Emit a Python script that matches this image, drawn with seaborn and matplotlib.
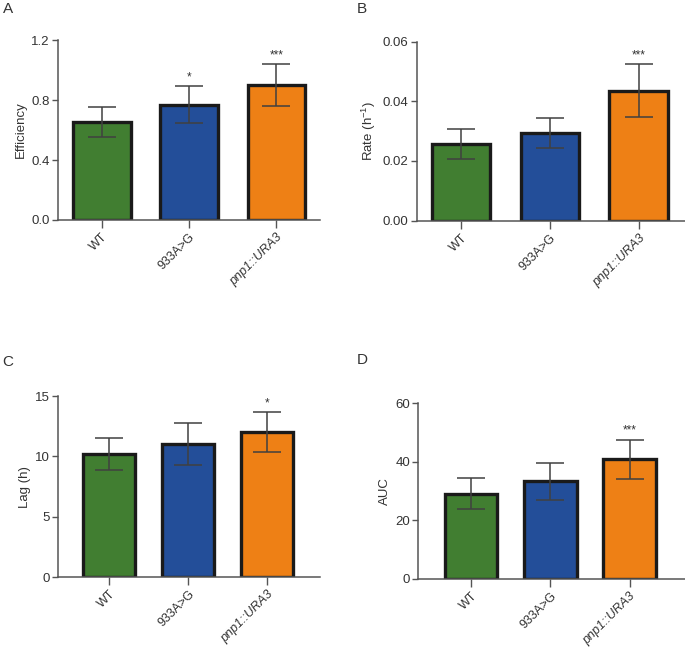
import matplotlib
matplotlib.use("Agg")
import matplotlib.pyplot as plt
import seaborn as sns
import pandas as pd
import numpy as np

strains = ["WT", "933A>G", "pnp1::URA3"]
bar_colors = ["#417E31", "#234E99", "#EE8015"]

eff_mean = [0.655, 0.770, 0.898]
eff_err = [0.100, 0.125, 0.140]
eff_sig = ["", "*", "***"]

rate_mean = [0.0257, 0.0293, 0.0436]
rate_err = [0.0049, 0.0050, 0.0088]
rate_sig = ["", "", "***"]

lag_mean = [10.2, 11.05, 12.0]
lag_err = [1.35, 1.75, 1.65]
lag_sig = ["", "", "*"]

auc_mean = [29.0, 33.3, 40.9]
auc_err = [5.3, 6.3, 6.7]
auc_sig = ["", "", "***"]

sns.set_style("ticks")
plt.rcParams["font.family"] = ["Liberation Sans", "DejaVu Sans"]
plt.rcParams["mathtext.default"] = "regular"

fig = plt.figure(figsize=(6.85, 6.47), dpi=100)

panels = [
    ("A", [0.0847, 0.660, 0.3825, 0.278], eff_mean, eff_err, eff_sig, "Efficiency",
     (0, 1.2), [0.0, 0.4, 0.8, 1.2], "{:.1f}", (-0.5, 2.5)),
    ("B", [0.6083, 0.659, 0.3917, 0.2767], rate_mean, rate_err, rate_sig, "Rate (h$^{-1}$)",
     (0, 0.06), [0.00, 0.02, 0.04, 0.06], "{:.2f}", (-0.5, 2.52)),
    ("C", [0.0847, 0.1077, 0.3825, 0.2802], lag_mean, lag_err, lag_sig, "Lag (h)",
     (0, 15), [0, 5, 10, 15], "{:.0f}", (-0.65, 2.67)),
    ("D", [0.6107, 0.1055, 0.3893, 0.2711], auc_mean, auc_err, auc_sig, "AUC",
     (0, 60), [0, 20, 40, 60], "{:.0f}", (-0.67, 2.7)),
]

# panel letters
letter_pos = {"A": (0.004, 0.997), "B": (0.521, 0.997), "C": (0.004, 0.451), "D": (0.521, 0.454)}

for letter, rect, means, errs, sig, ylabel, ylim, yticks, fmt, xlim in panels:
    ax = fig.add_axes(rect)
    df = pd.DataFrame({"strain": strains, "value": means})
    sns.barplot(data=df, x="strain", y="value", hue="strain", palette=bar_colors,
                saturation=1, legend=False, width=0.66, edgecolor="#1a1a1a", linewidth=2.4,
                errorbar=None, ax=ax, zorder=2)
    ax.errorbar(np.arange(len(strains)), means, yerr=errs, fmt="none",
                ecolor="#404040", elinewidth=1.1, capsize=10, capthick=1.1, zorder=3)
    for i, s in enumerate(sig):
        if s:
            ax.annotate(s, (i, means[i] + errs[i]), xytext=(0, 2), textcoords="offset points",
                        ha="center", va="bottom", fontsize=8.5, color="#333333")
    ax.set_xlim(*xlim)
    ax.set_ylim(*ylim)
    ax.set_yticks(yticks)
    ax.set_yticklabels([fmt.format(t) for t in yticks])
    ax.set_xlabel("")
    ax.set_ylabel(ylabel, fontsize=9.5, color="#333333", labelpad=3)
    ax.set_xticks(range(len(strains)))
    ax.set_xticklabels(strains, rotation=45, ha="right", rotation_mode="anchor")
    ax.get_xticklabels()[2].set_fontstyle("italic")
    ax.tick_params(axis="y", labelsize=9.5, labelcolor="#333333", length=4, width=1, color="#555555", pad=2)
    ax.tick_params(axis="x", labelsize=9, labelcolor="#333333", length=6, width=1, color="#555555", pad=2)
    for sp in ["left", "bottom"]:
        ax.spines[sp].set_color("#555555")
        ax.spines[sp].set_linewidth(1.1)
    sns.despine(ax=ax)
    fig.text(*letter_pos[letter], letter, fontsize=11, color="#333333", ha="left", va="top")

fig.savefig("out.png", dpi=100)
